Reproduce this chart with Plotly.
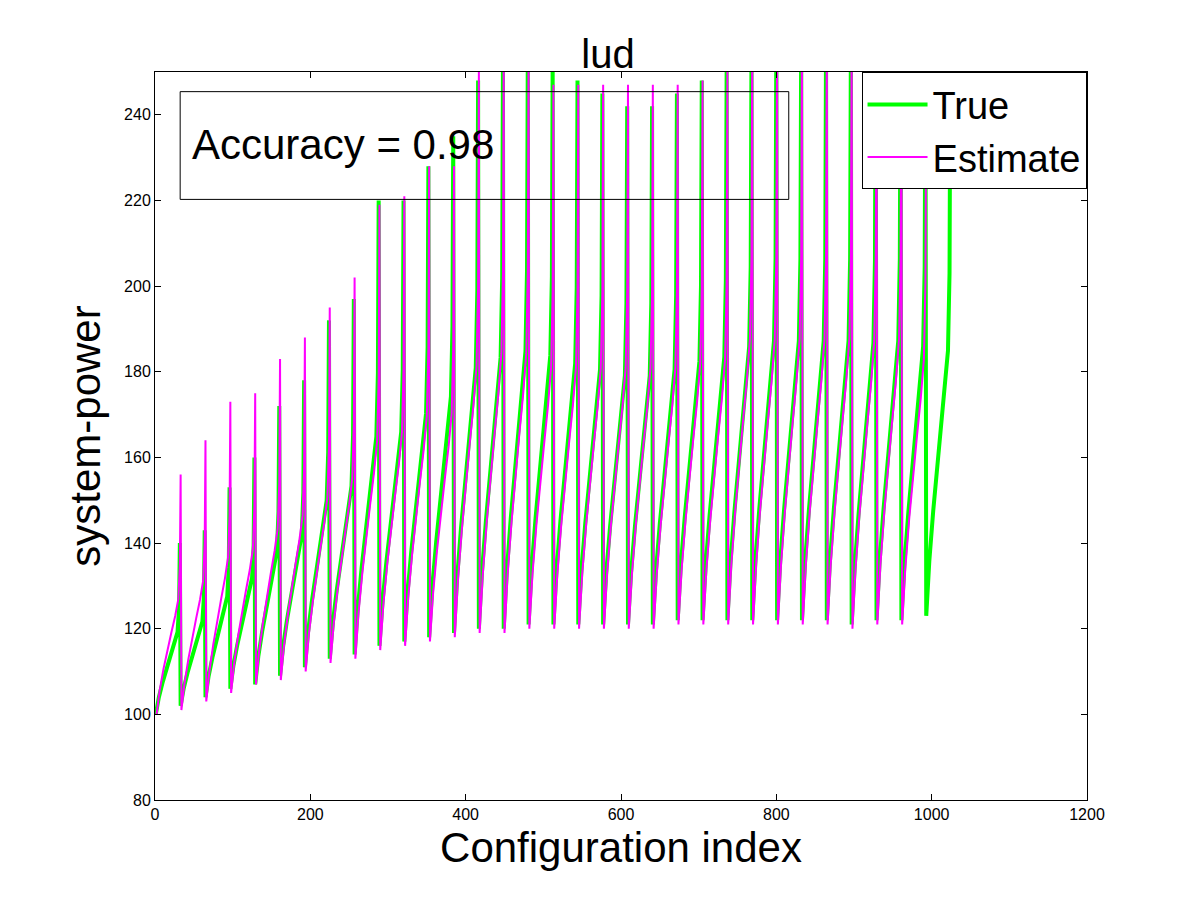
import plotly.graph_objects as go

seg_len = 32
# within-segment sample offsets and shape fraction (of min->peak)
offsets = [0, 4, 9, 14, 19, 24, 28, 30, 31]
shape = [0.0, 0.10, 0.19, 0.27, 0.34, 0.41, 0.48, 0.62, 1.0]

true_min = [100,102,104,106,107,109,111,113,114,116,117,118,119,120,120,121,121,121,121,121,121,122,122,122,122,122,122,122,121,122,122,123]
true_peak = [140,143,153,160,172,178,192,197,220,220,228,235,248,252,255,252,248,245,242,242,245,248,250,255,258,258,258,258,258,258,255,252]
est_min = [100,101,103,105,107,108,110,112,113,115,116,117,118,119,119,120,120,120,120,120,120,121,121,121,121,121,121,121,120,121,121]
est_peak = [156,164,173,175,183,188,195,202,219,221,228,228,250,255,255,247,247,247,247,247,247,248,250,260,260,260,260,260,260,260,250]

def build(mins, peaks, shift):
    xs, ys = [], []
    for i, (lo, hi) in enumerate(zip(mins, peaks)):
        for o, f in zip(offsets, shape):
            xs.append(i * seg_len + o + shift)
            ys.append(lo + f * (hi - lo))
    return xs, ys

tx, ty = build(true_min, true_peak, 1)
ex, ey = build(est_min, est_peak, 2)

fig = go.Figure()
fig.add_trace(go.Scatter(x=tx, y=ty, mode="lines", name="True", line=dict(color="#00ff00", width=4)))
fig.add_trace(go.Scatter(x=ex, y=ey, mode="lines", name="Estimate", line=dict(color="#ff00ff", width=2)))

axis = dict(showgrid=False, zeroline=False, showline=True, linecolor="black", mirror="ticks",
            ticks="inside", ticklen=6, tickcolor="black", tickfont=dict(size=16, color="black"),
            automargin=False)
fig.update_layout(
    width=1200, height=900, paper_bgcolor="white", plot_bgcolor="white",
    font=dict(family="Liberation Sans, Arial", color="black"),
    title=dict(text="lud", x=0.5, xanchor="center", y=0.965, font=dict(size=40)),
    margin=dict(l=147, r=121, t=64, b=108),
    xaxis=dict(axis, range=[0, 1200], dtick=200, title=dict(text="Configuration index", font=dict(size=42), standoff=10)),
    yaxis=dict(axis, range=[80, 250], dtick=20, title=dict(text="system-power", font=dict(size=42), standoff=10)),
    legend=dict(x=0.9995, y=0.9995, xanchor="right", yanchor="top", bgcolor="white",
                bordercolor="black", borderwidth=1, font=dict(size=38), itemwidth=60,
                tracegroupgap=0),
    shapes=[dict(type="rect", xref="paper", yref="paper", x0=0.027, x1=0.68, y0=0.825, y1=0.973,
                 line=dict(color="black", width=1), fillcolor="rgba(0,0,0,0)")],
    annotations=[dict(x=0.038, y=0.90, xref="paper", yref="paper", xanchor="left", yanchor="middle",
                      text="Accuracy = 0.98", showarrow=False, font=dict(size=42))],
)
fig.write_html("out.html")
